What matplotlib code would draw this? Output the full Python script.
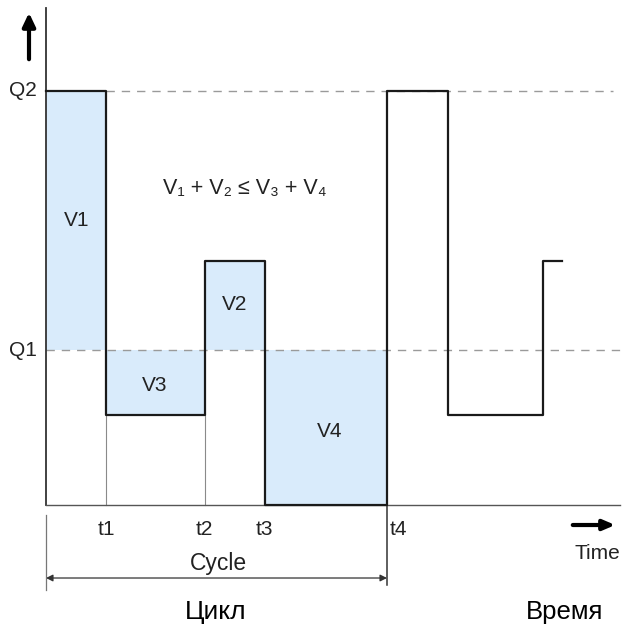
import matplotlib
matplotlib.use("Agg")
import matplotlib.pyplot as plt
from matplotlib.patches import FancyArrowPatch

plt.rcParams['font.family'] = ['Liberation Sans', 'DejaVu Sans']

# time instants (arbitrary units, 10 px per unit)
t_names = ["t1", "t2", "t3", "t4"]
t_vals = [6.0, 15.85, 21.85, 34.1]
t_extra = [40.2, 49.7, 51.6]  # second cycle: fall, rise, end
# flow levels (Q2 = 100)
Q2 = 100.0
Q1 = 37.4
low = 21.7
mid = 58.9

fill_color = "#d9ebfb"

fig = plt.figure(figsize=(6.25, 6.29), dpi=100)
ax = fig.add_axes([0, 0, 1, 1])
ax.set_xlim(-4.6, 57.9)
ax.set_ylim(-29.95, 121.98)
ax.axis('off')

t1, t2, t3, t4 = t_vals
t5, t6, t7 = t_extra

def py(p):
    return (505 - p) / 4.14

# shaded volumes
ax.fill_between([0, t1], Q1, Q2, color=fill_color, lw=0, zorder=1)
ax.fill_between([t1, t2], low, Q1, color=fill_color, lw=0, zorder=1)
ax.fill_between([t2, t3], Q1, mid, color=fill_color, lw=0, zorder=1)
ax.fill_between([t3, t4], 0, Q1, color=fill_color, lw=0, zorder=1)

# dashed reference levels
ax.plot([t1, 56.7], [Q2, Q2], color="#9a9a9a", lw=1.0, ls=(0, (6, 5)), zorder=2)
ax.plot([0, 57.4], [Q1, Q1], color="#9a9a9a", lw=1.0, ls=(0, (6, 5)), zorder=2)

# thin verticals at t1, t2 below low level
for tv in (t1, t2):
    ax.plot([tv, tv], [0, low], color="#8a8a8a", lw=0.8, zorder=2)

# axes
ax.plot([0, 0], [0, 120.0], color="#333333", lw=1.3, zorder=3)
ax.plot([0, 57.4], [0, 0], color="#555555", lw=1.0, zorder=3)

# flow signal
xs = [0, t1, t1, t2, t2, t3, t3, t4, t4, t5, t5, t6, t6, t7]
ys = [Q2, Q2, low, low, mid, mid, 0, 0, Q2, Q2, low, low, mid, mid]
ax.plot(xs, ys, color="#1a1a1a", lw=1.6, solid_joinstyle='round', zorder=4)

# labels in volumes
fs = 15
tc = "#222222"
ax.text(3.1, py(220), "V1", fontsize=fs, ha='center', va='center', color=tc)
ax.text(18.9, py(304), "V2", fontsize=fs, ha='center', va='center', color=tc)
ax.text(10.9, py(385), "V3", fontsize=fs, ha='center', va='center', color=tc)
ax.text(28.4, py(431), "V4", fontsize=fs, ha='center', va='center', color=tc)
ax.text(19.9, py(188), "V₁ + V₂ ≤ V₃ + V₄", fontsize=15.5, ha='center', va='center', color=tc)

# level labels
ax.text(-0.9, Q2, "Q2", fontsize=fs, ha='right', va='center', color=tc)
ax.text(-0.9, Q1, "Q1", fontsize=fs, ha='right', va='center', color=tc)

# time labels
ty = py(529)
for name, tv in zip(t_names[:3], t_vals[:3]):
    ax.text(tv, ty, name, fontsize=fs, ha='center', va='center', color=tc)
ax.text(t4 + 0.3, ty, t_names[3], fontsize=fs, ha='left', va='center', color=tc)

# lines below baseline
ax.plot([0, 0], [py(515), py(590)], color="#777777", lw=0.9, zorder=3)
ax.plot([t4, t4], [0, py(585)], color="#333333", lw=1.1, zorder=3)

# cycle arrow
cy = py(578)
arr = FancyArrowPatch((0, cy), (t4, cy), arrowstyle='<|-|>', mutation_scale=10,
                      color="#333333", lw=0.9, shrinkA=0, shrinkB=0)
ax.add_patch(arr)
ax.text(17.2, py(563), "Cycle", fontsize=16.5, ha='center', va='center', color=tc)

# direction arrows
ax.annotate("", xy=(-1.7, py(10)), xytext=(-1.7, py(62)),
            arrowprops=dict(arrowstyle='-|>,head_length=0.8,head_width=0.38', lw=3, color='black'))
ax.annotate("", xy=(57.2, py(525)), xytext=(52.4, py(525)),
            arrowprops=dict(arrowstyle='-|>,head_length=0.7,head_width=0.3', lw=3, color='black'))
ax.text(55.1, py(553), "Time", fontsize=fs, ha='center', va='center', color=tc)

# Russian captions
ax.text(17.0, py(612), "Цикл", fontsize=19, ha='center', va='center', color="black")
ax.text(51.9, py(612), "Время", fontsize=18.5, ha='center', va='center', color="black")

fig.savefig("out.png", dpi=100)
